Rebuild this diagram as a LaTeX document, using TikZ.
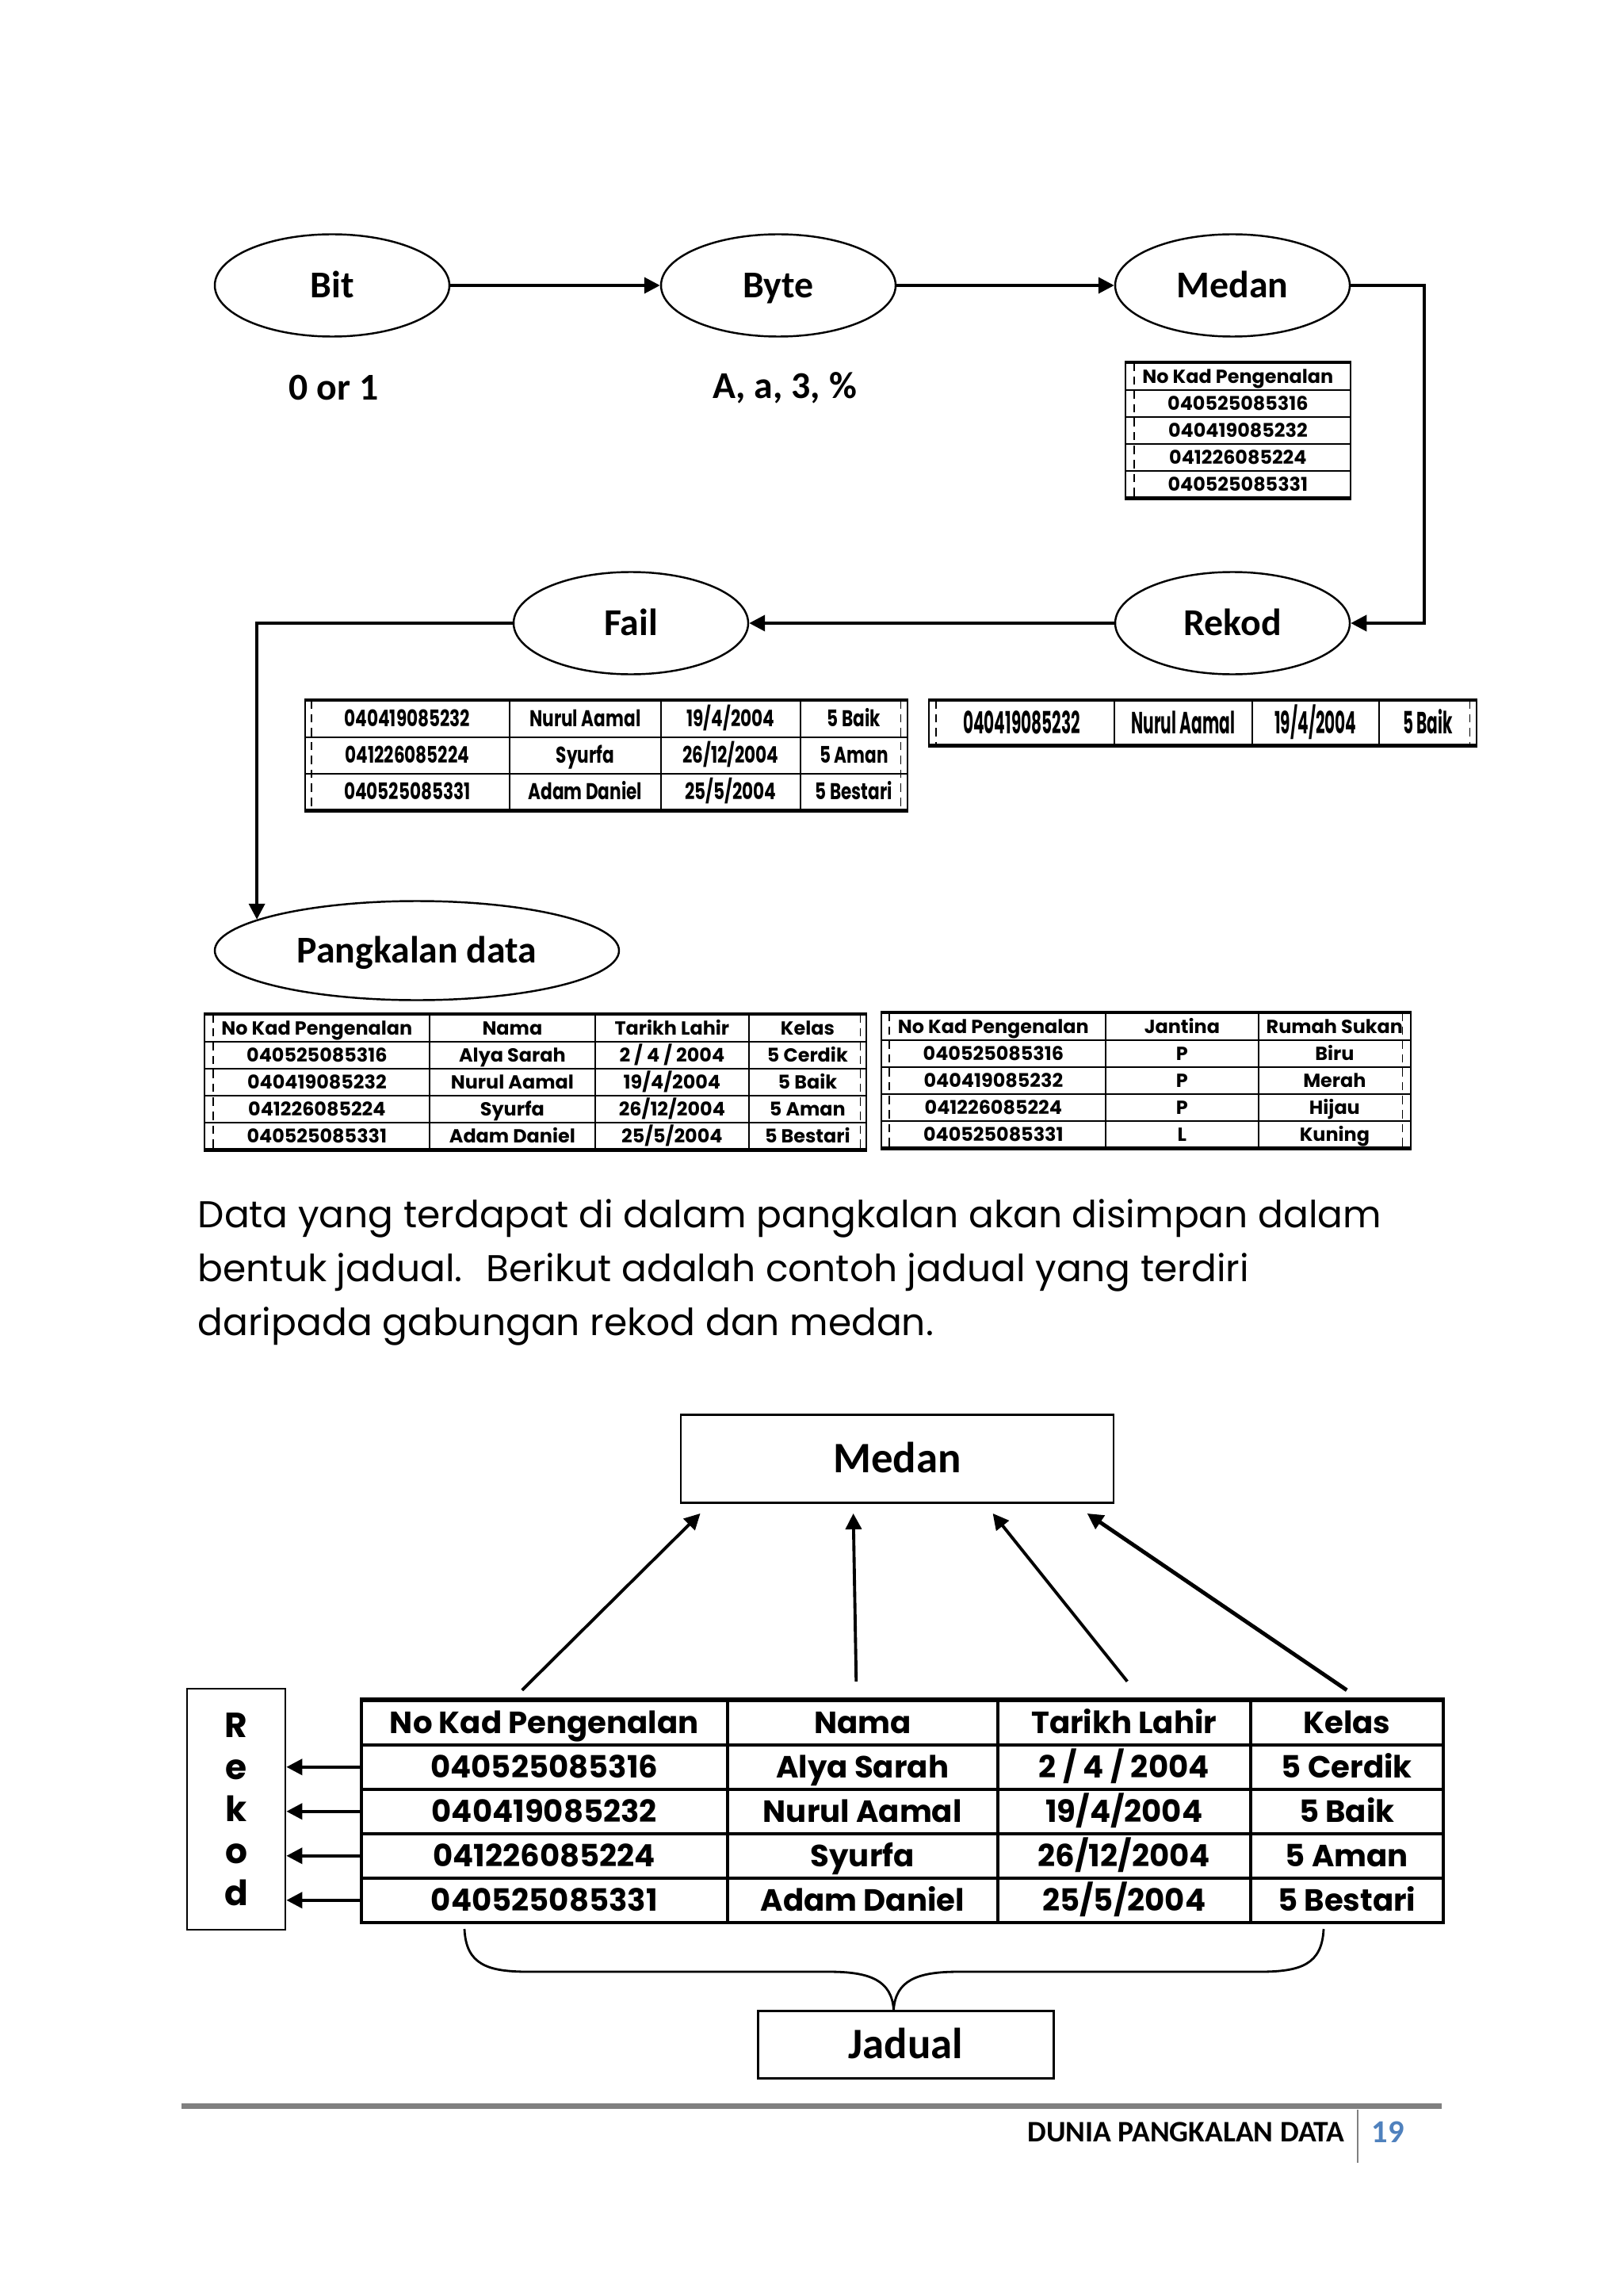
\documentclass[tikz,border=0pt]{standalone}
\usepackage{fontspec}
\setmainfont{Carlito}
\newfontfamily\gothic{Poppins}
\newfontfamily\gothcond[FakeStretch=0.75]{Poppins}
\newfontfamily\gothnarrow[FakeStretch=0.52]{Poppins}
\usepackage{xcolor}
\usepackage{tikz}
\usetikzlibrary{arrows.meta, positioning, shapes.geometric, matrix}
\definecolor{rulegray}{RGB}{128,128,128}
\definecolor{pageblue}{RGB}{79,129,189}

\begin{document}
\begin{tikzpicture}[
    bubble/.style={draw, ellipse, line width=0.7pt, minimum width=2.96cm, minimum height=1.29cm, text height=8.6pt, text depth=0pt, font=\fontsize{13.6}{16}\selectfont\bfseries},
    box/.style={draw, line width=0.8pt, text height=9.9pt, text depth=0pt, font=\fontsize{15.6}{18}\selectfont\bfseries},
    arr/.style={-{Triangle[length=2mm, width=2mm]}, line width=1.1pt},
    tbl/.style={matrix of nodes, inner sep=0pt, outer sep=0pt, row sep=-0.5pt, column sep=-0.5pt, anchor=north west,
        nodes={draw, line width=0.5pt, anchor=center, inner sep=0pt, text height=4.8pt, text depth=0pt, font=\gothic\bfseries\fontsize{6.8}{8}\selectfont}},
    xlsline/.style={densely dashed, line width=0.3pt},
    tabrim/.style={line width=1.3pt},
]

\fill[white] (0,0) rectangle (20.48,-28.96);
\useasboundingbox (0,0) rectangle (20.48,-28.96);

% chain of data units
\node[bubble] (bit) at (4.19,-3.60) {Bit};
\node[bubble] (byte) at (9.82,-3.60) {Byte};
\node[bubble] (medan) at (15.55,-3.60) {Medan};
\node[bubble] (rekod) at (15.55,-7.86) {Rekod};
\node[bubble] (fail) at (7.96,-7.86) {Fail};
\node[bubble, minimum width=5.10cm, minimum height=1.25cm] (pd) at (5.26,-11.99) {Pangkalan data};

\node[font=\fontsize{13.6}{16}\selectfont\bfseries] (bitval) at (4.21,-4.89) {0 or 1};
\node[font=\fontsize{13.6}{16}\selectfont\bfseries] (byteval) at (9.90,-4.89) {A, a, 3, \%};

\coordinate (turn) at (17.97,-3.60);
\draw[arr] (bit) -- (byte);
\draw[arr] (byte) -- (medan);
\draw[arr] (medan.east) -- (turn) |- (rekod.east);
\draw[arr] (rekod) -- (fail);
\draw[arr] (fail.west) -| (pd.169);

% example tables
\matrix[tbl, nodes={minimum width=2.84cm, minimum height=0.34cm}] (mt) at (14.19,-4.57) {
No Kad Pengenalan \\ 040525085316 \\ 040419085232 \\ 041226085224 \\ 040525085331 \\
};

\matrix[tbl, nodes={minimum height=0.46cm, text height=5.7pt, font=\gothcond\bfseries\fontsize{8.2}{9}\selectfont},
    column 1/.style={nodes={minimum width=2.58cm}}, column 2/.style={nodes={minimum width=1.91cm}},
    column 3/.style={nodes={minimum width=1.76cm}}, column 4/.style={nodes={minimum width=1.35cm}}] (ft) at (3.84,-8.83) {
040419085232 & Nurul Aamal & 19/4/2004 & 5 Baik \\
041226085224 & Syurfa & 26/12/2004 & 5 Aman \\
040525085331 & Adam Daniel & 25/5/2004 & 5 Bestari \\
};

\matrix[tbl, nodes={minimum height=0.56cm, text height=7.7pt, font=\gothnarrow\bfseries\fontsize{11}{12}\selectfont},
    column 1/.style={nodes={minimum width=2.34cm}}, column 2/.style={nodes={minimum width=1.74cm}},
    column 3/.style={nodes={minimum width=1.60cm}}, column 4/.style={nodes={minimum width=1.23cm}}] (rt) at (11.71,-8.83) {
040419085232 & Nurul Aamal & 19/4/2004 & 5 Baik \\
};

\matrix[tbl, nodes={minimum height=0.34cm},
    column 1/.style={nodes={minimum width=2.84cm}}, column 2/.style={nodes={minimum width=2.09cm}},
    column 3/.style={nodes={minimum width=1.94cm}}, column 4/.style={nodes={minimum width=1.48cm}}] (pt1) at (2.57,-12.79) {
No Kad Pengenalan & Nama & Tarikh Lahir & Kelas \\
040525085316 & Alya Sarah & 2 / 4 / 2004 & 5 Cerdik \\
040419085232 & Nurul Aamal & 19/4/2004 & 5 Baik \\
041226085224 & Syurfa & 26/12/2004 & 5 Aman \\
040525085331 & Adam Daniel & 25/5/2004 & 5 Bestari \\
};

\matrix[tbl, nodes={minimum height=0.34cm},
    column 1/.style={nodes={minimum width=2.83cm}}, column 2/.style={nodes={minimum width=1.93cm}},
    column 3/.style={nodes={minimum width=1.92cm}}] (pt2) at (11.11,-12.77) {
No Kad Pengenalan & Jantina & Rumah Sukan \\
040525085316 & P & Biru \\
040419085232 & P & Merah \\
041226085224 & P & Hijau \\
040525085331 & L & Kuning \\
};

\draw[tabrim] (mt.north west) -- (mt.north east) (mt.south west) -- (mt.south east);
\draw[tabrim] (ft.north west) -- (ft.north east) (ft.south west) -- (ft.south east);
\draw[tabrim] (rt.north west) -- (rt.north east) (rt.south west) -- (rt.south east);
\draw[tabrim] (pt1.north west) -- (pt1.north east) (pt1.south west) -- (pt1.south east);
\draw[tabrim] (pt2.north west) -- (pt2.north east) (pt2.south west) -- (pt2.south east);
\draw[xlsline] ([xshift=1.2mm]mt.north west) -- ([xshift=1.2mm]mt.south west);
\draw[xlsline] ([xshift=0.9mm]ft.north west) -- ([xshift=0.9mm]ft.south west) ([xshift=-0.9mm]ft.north east) -- ([xshift=-0.9mm]ft.south east);
\draw[xlsline] ([xshift=1mm]rt.north west) -- ([xshift=1mm]rt.south west) ([xshift=-0.9mm]rt.north east) -- ([xshift=-0.9mm]rt.south east);
\draw[xlsline] ([xshift=1.2mm]pt1.north west) -- ([xshift=1.2mm]pt1.south west) ([xshift=-0.8mm]pt1.north east) -- ([xshift=-0.8mm]pt1.south east);
\draw[xlsline] ([xshift=1.1mm]pt2.north west) -- ([xshift=1.1mm]pt2.south west) ([xshift=-1.1mm]pt2.north east) -- ([xshift=-1.1mm]pt2.south east);

% paragraph
\node[anchor=north west, inner sep=0pt, align=left, font=\gothic\fontsize{13.4}{19.4}\selectfont] (para) at (2.49,-15.12)
    {Data yang terdapat di dalam pangkalan akan disimpan dalam\\
     bentuk jadual.~ Berikut adalah contoh jadual yang terdiri\\
     daripada gabungan rekod dan medan.};

% table with records and fields
\node[box, minimum width=5.46cm, minimum height=1.11cm] (medanbox) at (11.32,-18.40) {Medan};

\matrix[tbl, row sep=-1pt, column sep=-1pt, nodes={line width=1pt, minimum height=0.56cm, text height=7.7pt, font=\gothic\bfseries\fontsize{11}{12}\selectfont},
    column 1/.style={nodes={minimum width=4.62cm}}, column 2/.style={nodes={minimum width=3.41cm}},
    column 3/.style={nodes={minimum width=3.19cm}}, column 4/.style={nodes={minimum width=2.43cm}}] (bt) at (4.54,-21.43) {
No Kad Pengenalan & Nama & Tarikh Lahir & Kelas \\
040525085316 & Alya Sarah & 2 / 4 / 2004 & 5 Cerdik \\
040419085232 & Nurul Aamal & 19/4/2004 & 5 Baik \\
041226085224 & Syurfa & 26/12/2004 & 5 Aman \\
040525085331 & Adam Daniel & 25/5/2004 & 5 Bestari \\
};
\draw[tabrim] (bt.north west) -- (bt.north east);

\node[box, minimum width=1.24cm, minimum height=3.04cm, align=center, text height=, text depth=, font=\gothic\bfseries\fontsize{12.5}{15.1}\selectfont] (rekodbox) at (2.98,-22.82) {R\\e\\k\\o\\d};

\draw[arr] ([xshift=-2.8mm, yshift=1.3mm]bt-1-1.north) -- ([xshift=2.6mm, yshift=-1.2mm]medanbox.south west);
\draw[arr] ([xshift=-0.8mm, yshift=2.4mm]bt-1-2.north) -- ([xshift=21.9mm, yshift=-1.2mm]medanbox.south west);
\draw[arr] ([xshift=0.4mm, yshift=2.4mm]bt-1-3.north) -- ([xshift=39.5mm, yshift=-1.2mm]medanbox.south west);
\draw[arr, line width=1.4pt] ([yshift=1.3mm]bt-1-4.north) -- ([xshift=51.4mm, yshift=-1.2mm]medanbox.south west);

\draw[arr] (bt-2-1.west) -- (rekodbox.east |- bt-2-1.west);
\draw[arr] (bt-3-1.west) -- (rekodbox.east |- bt-3-1.west);
\draw[arr] (bt-4-1.west) -- (rekodbox.east |- bt-4-1.west);
\draw[arr] (bt-5-1.west) -- (rekodbox.east |- bt-5-1.west);

\node[box, minimum width=3.73cm, minimum height=0.85cm] (jadual) at (11.43,-25.79) {Jadual};

\draw[line width=0.8pt] (5.86,-24.33) .. controls (5.88,-24.78) and (6.15,-24.87) .. (6.67,-24.87) -- (10.46,-24.87)
    .. controls (10.98,-24.87) and (11.25,-24.98) .. ([xshift=-1.55mm]jadual.north)
    .. controls (11.30,-24.98) and (11.57,-24.87) .. (12.09,-24.87) -- (15.89,-24.87)
    .. controls (16.41,-24.87) and (16.68,-24.78) .. (16.70,-24.33);

% footer
\draw[rulegray, line width=2pt] (2.29,-26.565) -- (18.19,-26.565);
\node[anchor=east, inner sep=0pt, font=\fontsize{10.7}{13}\selectfont\bfseries] (footer) at (16.97,-26.89) {DUNIA PANGKALAN DATA};
\draw[rulegray, line width=0.8pt] (17.13,-26.61) -- (17.13,-27.28);
\node[text=pageblue, font=\fontsize{11.5}{13}\selectfont\bfseries] (pagenum) at (17.51,-26.89) {19};

\end{tikzpicture}
\end{document}
